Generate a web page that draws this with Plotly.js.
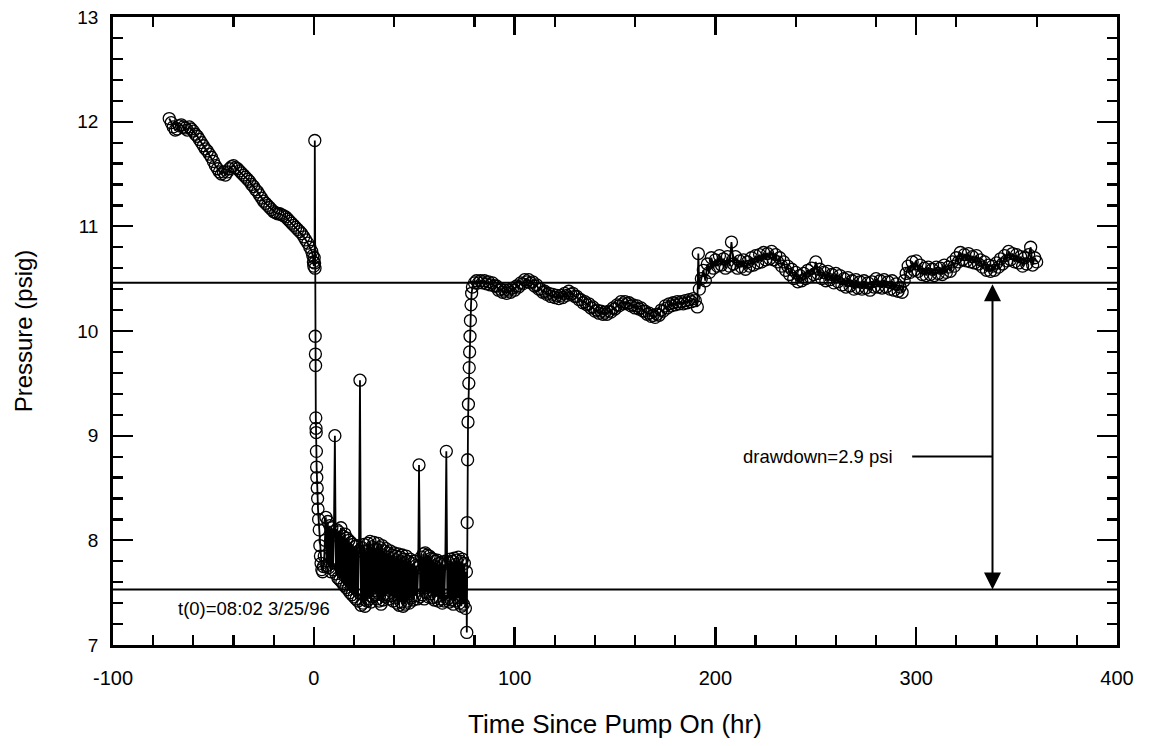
<!DOCTYPE html>
<html>
<head>
<meta charset="utf-8">
<script src="https://cdn.plot.ly/plotly-3.0.1.min.js"></script>
<style>html,body{margin:0;padding:0;background:#fff;}#chart{width:1151px;height:746px;}</style>
</head>
<body>
<div id="chart"></div>
<script>
// ---- Data ----
// Pre-pumping (background decline)
const preTime = [-72,-71,-70,-69,-68,-67,-66,-65,-64,-63,-62,-61,-60,-59,-58,-57,-56,-55,-54,-53,-52,-51,-50,-49,-48,-47,-46,-45,-44,-43,-42,-41,-40,-39,-38,-37,-36,-35,-34,-33,-32,-31,-30,-29,-28,-27,-26,-25,-24,-23,-22,-21,-20,-19,-18,-17,-16,-15,-14,-13,-12,-11,-10,-9,-8,-7,-6,-5,-4,-3,-2,-1,-0.5,-0.2,0];
const prePressure = [12.03,11.99,11.95,11.92,11.93,11.96,11.97,11.95,11.94,11.92,11.95,11.93,11.91,11.88,11.86,11.83,11.80,11.77,11.74,11.72,11.69,11.66,11.62,11.58,11.55,11.52,11.50,11.52,11.49,11.52,11.55,11.57,11.58,11.56,11.55,11.53,11.51,11.49,11.47,11.45,11.43,11.40,11.38,11.35,11.33,11.30,11.27,11.24,11.22,11.20,11.18,11.16,11.14,11.13,11.12,11.12,11.11,11.10,11.09,11.07,11.05,11.03,11.01,10.99,10.97,10.95,10.93,10.90,10.87,10.84,10.80,10.76,10.72,10.66,10.62];

// Pumping period (drawdown with oscillations and spikes)
const pumpTime = [0.2,0.4,0.5,0.6,0.7,0.8,0.9,1.0,1.1,1.2,1.3,1.4,1.5,1.7,1.9,2.1,2.4,2.7,3.0,3.3,3.6,4.0,4.4,4.8,5.2,5.6,6,6.5,7,7.5,8,8.5,9,9.5,10,10.5,11,11.5,12,12.5,13,13.5,14,14.5,15,15.5,16,16.5,17,17.5,18,18.5,19,19.5,20,20.5,21,21.5,22,22.5,23,23.5,24,24.5,25,25.5,26,26.5,27,27.5,28,28.5,29,29.5,30,30.5,31,31.5,32,32.5,33,33.5,34,34.5,35,35.5,36,36.5,37,37.5,38,38.5,39,39.5,40,40.5,41,41.5,42,42.5,43,43.5,44,44.5,45,45.5,46,46.5,47,47.5,48,48.5,49,49.5,50,50.5,51,51.5,52,52.4,53,53.5,54,54.5,55,55.5,56,56.5,57,57.5,58,58.5,59,59.5,60,60.5,61,61.5,62,62.5,63,63.5,64,64.5,65,65.5,66,66.5,67,67.5,68,68.5,69,69.5,70,70.5,71,71.5,72,72.5,73,73.5,74,74.5,75,75.5,76,76.2];
const pumpPressure = [10.70,10.65,11.82,10.60,9.95,9.78,9.67,9.17,9.07,9.03,8.85,8.70,8.60,8.50,8.40,8.30,8.20,8.10,7.95,7.85,7.78,7.72,7.70,7.75,7.85,8.00,8.22,7.76,8.18,7.74,8.14,7.70,8.12,7.72,8.05,9.00,7.68,8.10,7.64,8.08,7.62,8.12,7.60,8.04,7.57,8.06,7.55,8.02,7.53,8.00,7.50,7.98,7.48,7.96,7.46,7.94,7.44,7.95,7.42,7.90,9.53,7.38,7.93,7.40,7.96,7.37,7.90,7.42,7.97,7.44,7.99,7.41,7.94,7.46,7.98,7.48,7.92,7.44,7.97,7.42,7.93,7.39,7.95,7.43,7.90,7.46,7.92,7.48,7.88,7.44,7.90,7.47,7.86,7.42,7.88,7.45,7.85,7.40,7.87,7.38,7.84,7.41,7.86,7.37,7.82,7.39,7.85,7.42,7.80,7.40,7.82,7.45,7.78,7.43,7.80,7.47,7.76,7.44,7.74,8.72,7.46,7.84,7.48,7.87,7.44,7.88,7.50,7.86,7.46,7.85,7.49,7.83,7.45,7.82,7.43,7.80,7.46,7.81,7.42,7.78,7.44,7.79,7.40,7.77,7.42,7.80,8.85,7.44,7.79,7.41,7.82,7.43,7.80,7.39,7.83,7.42,7.81,7.45,7.84,7.40,7.80,7.37,7.82,7.39,7.78,7.35,7.70,7.12];

// Recovery after pump off
const recTime = [76.4,76.6,76.8,77,77.2,77.4,77.6,77.8,78,78.3,78.6,79,80,81,82,83,84,85,86,87,88,89,90,91,92,93,94,95,96,97,98,99,100,101,102,103,104,105,106,107,108,109,110,111,112,113,114,115,116,117,118,119,120,121,122,123,124,125,126,127,128,129,130,131,132,133,134,135,136,137,138,139,140,141,142,143,144,145,146,147,148,149,150,151,152,153,154,155,156,157,158,159,160,161,162,163,164,165,166,167,168,169,170,171,172,173,174,175,176,177,178,179,180,181,182,183,184,185,186,187,188,189,190,191,191.5,192,193,194,195,196,197,198,199,200,201,202,203,204,205,206,207,208,209,210,211,212,213,214,215,216,217,218,219,220,221,222,223,224,225,226,227,228,229,230,231,232,233,234,235,236,237,238,239,240,241,242,243,244,245,246,247,248,249,250,251,252,253,254,255,256,257,258,259,260,261,262,263,264,265,266,267,268,269,270,271,272,273,274,275,276,277,278,279,280,281,282,283,284,285,286,287,288,289,290,291,292,293,294,295,296,297,298,299,300,301,302,303,304,305,306,307,308,309,310,311,312,313,314,315,316,317,318,319,320,321,322,323,324,325,326,327,328,329,330,331,332,333,334,335,336,337,338,339,340,341,342,343,344,345,346,347,348,349,350,351,352,353,354,355,356,357,358,359,360];
const recPressure = [8.17,8.77,9.13,9.30,9.50,9.65,9.80,9.95,10.10,10.25,10.36,10.42,10.46,10.48,10.46,10.48,10.46,10.48,10.45,10.47,10.44,10.46,10.43,10.43,10.39,10.40,10.37,10.39,10.36,10.39,10.37,10.41,10.39,10.43,10.42,10.46,10.45,10.49,10.47,10.49,10.46,10.47,10.43,10.44,10.40,10.40,10.37,10.38,10.35,10.36,10.33,10.35,10.32,10.34,10.31,10.34,10.32,10.36,10.34,10.38,10.35,10.36,10.33,10.33,10.30,10.30,10.27,10.28,10.25,10.26,10.22,10.23,10.19,10.20,10.17,10.19,10.16,10.18,10.16,10.19,10.18,10.22,10.21,10.25,10.24,10.28,10.26,10.28,10.26,10.27,10.24,10.25,10.22,10.24,10.21,10.22,10.19,10.19,10.16,10.17,10.14,10.15,10.13,10.16,10.15,10.20,10.19,10.24,10.22,10.26,10.24,10.27,10.25,10.28,10.26,10.28,10.26,10.29,10.27,10.30,10.28,10.31,10.29,10.23,10.74,10.40,10.50,10.58,10.48,10.64,10.56,10.70,10.60,10.68,10.62,10.72,10.63,10.69,10.60,10.71,10.62,10.85,10.64,10.71,10.60,10.67,10.61,10.68,10.59,10.66,10.62,10.70,10.63,10.72,10.65,10.73,10.66,10.75,10.68,10.74,10.69,10.76,10.68,10.73,10.66,10.70,10.62,10.66,10.58,10.62,10.54,10.59,10.50,10.56,10.47,10.53,10.48,10.55,10.50,10.58,10.52,10.60,10.54,10.66,10.55,10.59,10.50,10.56,10.48,10.57,10.49,10.54,10.46,10.55,10.47,10.53,10.44,10.50,10.42,10.51,10.43,10.48,10.40,10.49,10.41,10.47,10.40,10.48,10.41,10.46,10.39,10.47,10.42,10.50,10.42,10.48,10.41,10.49,10.42,10.47,10.40,10.48,10.39,10.45,10.38,10.42,10.37,10.48,10.55,10.62,10.56,10.66,10.58,10.67,10.57,10.63,10.54,10.60,10.53,10.61,10.54,10.59,10.53,10.61,10.55,10.60,10.54,10.63,10.56,10.61,10.57,10.66,10.62,10.70,10.66,10.75,10.68,10.73,10.67,10.74,10.66,10.71,10.65,10.72,10.64,10.68,10.61,10.66,10.58,10.63,10.57,10.62,10.58,10.65,10.61,10.69,10.64,10.72,10.67,10.76,10.68,10.74,10.66,10.73,10.65,10.71,10.62,10.70,10.64,10.73,10.80,10.63,10.70,10.66];

// Reference levels and annotation values
const staticLevel = 10.46;
const pumpingLevel = 7.53;
const arrowTime = 338;
const leaderStart = 298;
const leaderLevel = 8.80;
const drawdownLabel = 'drawdown=2.9 psi';
const drawdownLabelTime = 251;
const t0Label = 't(0)=08:02 3/25/96';
const t0LabelTime = -30;
const t0LabelLevel = 7.35;

// tick values and labels
const xMajorTicks = [-100, 0, 100, 200, 300, 400];
const xTickLabels = ['-100', '0', '100', '200', '300', '400'];
const yMajorTicks = [7, 8, 9, 10, 11, 12, 13];
const yTickLabels = ['7', '8', '9', '10', '11', '12', '13'];

const time = preTime.concat(pumpTime, recTime);
const pressure = prePressure.concat(pumpPressure, recPressure);

const FONT = 'Liberation Sans, Arial, Helvetica, sans-serif';

const trace = {
  x: time, y: pressure, type: 'scatter', mode: 'lines+markers',
  line: {color: '#000', width: 1.8},
  marker: {symbol: 'circle-open', size: 12, color: '#000', line: {width: 1.3, color: '#000'}},
  showlegend: false, hoverinfo: 'x+y'
};

const layout = {
  width: 1151, height: 746,
  margin: {l: 113, r: 34, t: 17, b: 101},
  paper_bgcolor: '#fff', plot_bgcolor: '#fff',
  font: {family: FONT, color: '#000', size: 19},
  showlegend: false,
  xaxis: {
    range: [-100, 400], tickvals: xMajorTicks, ticktext: xTickLabels,
    ticks: 'inside', ticklen: 18, tickwidth: 2.2, tickcolor: '#000',
    minor: {dtick: 20, tick0: 0, ticks: 'inside', ticklen: 10, tickwidth: 2.2, tickcolor: '#000', showgrid: false},
    showline: true, linewidth: 2.8, linecolor: '#000', mirror: true,
    showgrid: false, zeroline: false, ticklabelstandoff: 13,
    tickfont: {size: 20, family: FONT, color: '#000'},
    title: {text: 'Time Since Pump On (hr)', font: {size: 26, family: FONT, color: '#000'}, standoff: 27}
  },
  xaxis2: {
    range: [-100, 400], overlaying: 'x', side: 'top', anchor: 'y',
    tickvals: xMajorTicks, ticks: 'inside', ticklen: 18, tickwidth: 2.2, tickcolor: '#000',
    minor: {dtick: 40, tick0: 0, ticks: 'inside', ticklen: 10, tickwidth: 2.2, tickcolor: '#000', showgrid: false},
    showticklabels: false, showline: false, showgrid: false, zeroline: false
  },
  yaxis: {
    range: [7, 13], tickvals: yMajorTicks, ticktext: yTickLabels,
    ticks: 'inside', ticklen: 20, tickwidth: 2.2, tickcolor: '#000',
    minor: {dtick: 0.2, tick0: 7, ticks: 'inside', ticklen: 10, tickwidth: 2.2, tickcolor: '#000', showgrid: false},
    showline: true, linewidth: 2.8, linecolor: '#000', mirror: 'ticks',
    showgrid: false, zeroline: false, ticklabelstandoff: 8,
    tickfont: {size: 19, family: FONT, color: '#000'},
    title: {text: 'Pressure (psig)', font: {size: 24, family: FONT, color: '#000'}, standoff: 38}
  },
  shapes: [
    {type: 'line', xref: 'paper', yref: 'y', x0: 0, x1: 1, y0: staticLevel, y1: staticLevel, line: {color: '#000', width: 2}},
    {type: 'line', xref: 'paper', yref: 'y', x0: 0, x1: 1, y0: pumpingLevel, y1: pumpingLevel, line: {color: '#000', width: 2}},
    {type: 'line', xref: 'x', yref: 'y', x0: leaderStart, x1: arrowTime, y0: leaderLevel, y1: leaderLevel, line: {color: '#000', width: 2}}
  ],
  annotations: [
    {x: arrowTime, y: pumpingLevel, ax: arrowTime, ay: staticLevel, xref: 'x', yref: 'y', axref: 'x', ayref: 'y',
     text: '', showarrow: true, arrowhead: 2, startarrowhead: 2, arrowside: 'end+start', arrowsize: 1.7, startarrowsize: 1.7,
     arrowwidth: 2, arrowcolor: '#000', standoff: 0, startstandoff: 0},
    {x: drawdownLabelTime, y: leaderLevel, xref: 'x', yref: 'y', text: drawdownLabel, showarrow: false,
     font: {size: 18.5, family: FONT, color: '#000'}, xanchor: 'center', yanchor: 'middle'},
    {x: t0LabelTime, y: t0LabelLevel, xref: 'x', yref: 'y', text: t0Label, showarrow: false,
     font: {size: 18.5, family: FONT, color: '#000'}, xanchor: 'center', yanchor: 'middle'}
  ]
};

const topTrace = {x: [], y: [], xaxis: 'x2', yaxis: 'y', type: 'scatter', mode: 'lines', showlegend: false, hoverinfo: 'skip'};

Plotly.newPlot('chart', [trace, topTrace], layout, {staticPlot: true, displayModeBar: false});
</script>
</body>
</html>
